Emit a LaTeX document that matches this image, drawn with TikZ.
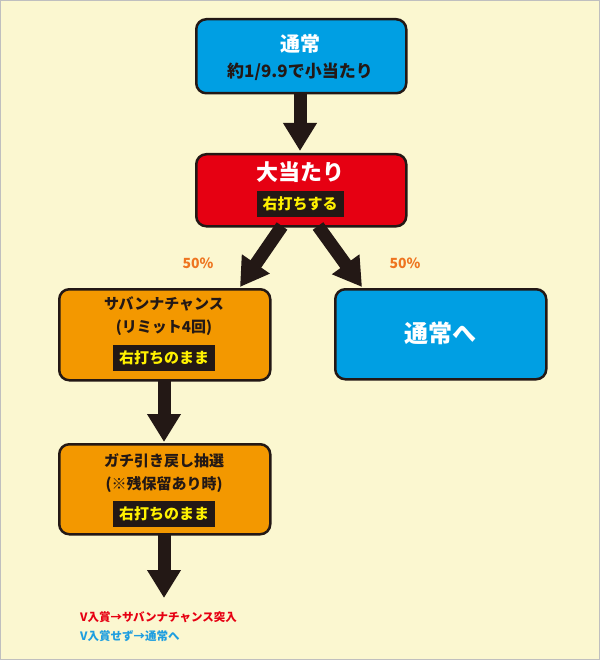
\documentclass[tikz,border=0pt]{standalone}
\usepackage{fontspec}
\setmainfont{Noto Sans CJK JP}
\usetikzlibrary{arrows.meta}
\definecolor{bg}{HTML}{FBF7D0}
\definecolor{cblue}{HTML}{009FE3}
\definecolor{cred}{HTML}{E60012}
\definecolor{corange}{HTML}{F39800}
\definecolor{cdark}{HTML}{231815}
\definecolor{cyel}{HTML}{FFF100}
\definecolor{pct}{HTML}{EE7520}
\definecolor{tblue}{HTML}{1E9EE0}
\begin{document}
\begin{tikzpicture}[x=1pt,y=-1pt,font=\bfseries,
  box/.style={draw=cdark,line width=2.5pt,rounded corners=10pt,anchor=north west,inner sep=0pt},
  band/.style={fill=cdark,text=cyel,inner xsep=6pt,inner ysep=2pt,font=\bfseries\fontsize{15}{15}\selectfont,minimum height=26pt},
  big/.style={draw=cdark,line width=13pt,-{Triangle[width=32pt,length=28pt]}},
  lbl/.style={font=\bfseries\fontsize{15}{17}\selectfont,text=cdark}]
\fill[bg,draw=black!25,line width=1pt] (0.5,0.5) rectangle (599.5,659.5);
\useasboundingbox (0,0) rectangle (600,660);
% boxes
\node[box,fill=cblue,minimum width=210pt,minimum height=74pt] (n1) at (195,18) {};
\node[text=white,font=\bfseries\fontsize{20}{20}\selectfont] (n1a) at (300,44) {通常};
\node[text=cdark,font=\bfseries\fontsize{17}{17}\selectfont] (n1b) at (300,72) {約1/9.9で小当たり};
\node[box,fill=cred,minimum width=210pt,minimum height=72pt] (n2) at (195,153) {};
\node[text=white,font=\bfseries\fontsize{22}{22}\selectfont] (n2a) at (300,172) {大当たり};
\node[band] (n2b) at (300,204) {右打ちする};
\node[box,fill=corange,minimum width=211pt,minimum height=91pt] (n3) at (58,288) {};
\node[lbl] (n3a) at (164,304) {サバンナチャンス};
\node[lbl] (n3b) at (164,328) {(リミット4回)};
\node[band] (n3c) at (164,358) {右打ちのまま};
\node[box,fill=cblue,minimum width=211pt,minimum height=90pt] (n4) at (334,288) {};
\node[text=white,font=\bfseries\fontsize{24}{24}\selectfont] (n4a) at (440,333) {通常へ};
\node[box,fill=corange,minimum width=211pt,minimum height=90pt] (n5) at (58,443) {};
\node[lbl] (n5a) at (164,461) {ガチ引き戻し抽選};
\node[lbl] (n5b) at (164,485) {(※残保留あり時)};
\node[band] (n5c) at (164,514) {右打ちのまま};
% arrows
\coordinate (a1s) at (300,92); \coordinate (a1e) at (300,151);
\draw[big] (a1s) -- (a1e);
\coordinate (a2s) at (282,226); \coordinate (a2e) at (240,287);
\draw[big] (a2s) -- (a2e);
\coordinate (a3s) at (318,226); \coordinate (a3e) at (362,287);
\draw[big] (a3s) -- (a3e);
\coordinate (a4s) at (164,380); \coordinate (a4e) at (164,442);
\draw[big] (a4s) -- (a4e);
\coordinate (a5s) at (164,534); \coordinate (a5e) at (164,598);
\draw[big] (a5s) -- (a5e);
\node[text=pct,font=\bfseries\fontsize{14}{14}\selectfont] (p1) at (198,263) {50\%};
\node[text=pct,font=\bfseries\fontsize{14}{14}\selectfont] (p2) at (405,263) {50\%};
\node[anchor=west,text=cred,font=\bfseries\fontsize{11.5}{11.5}\selectfont,inner sep=0pt] (t1) at (80,617) {V入賞→サバンナチャンス突入};
\node[anchor=west,text=tblue,font=\bfseries\fontsize{11.5}{11.5}\selectfont,inner sep=0pt] (t2) at (80,636) {V入賞せず→通常へ};
\end{tikzpicture}
\end{document}
